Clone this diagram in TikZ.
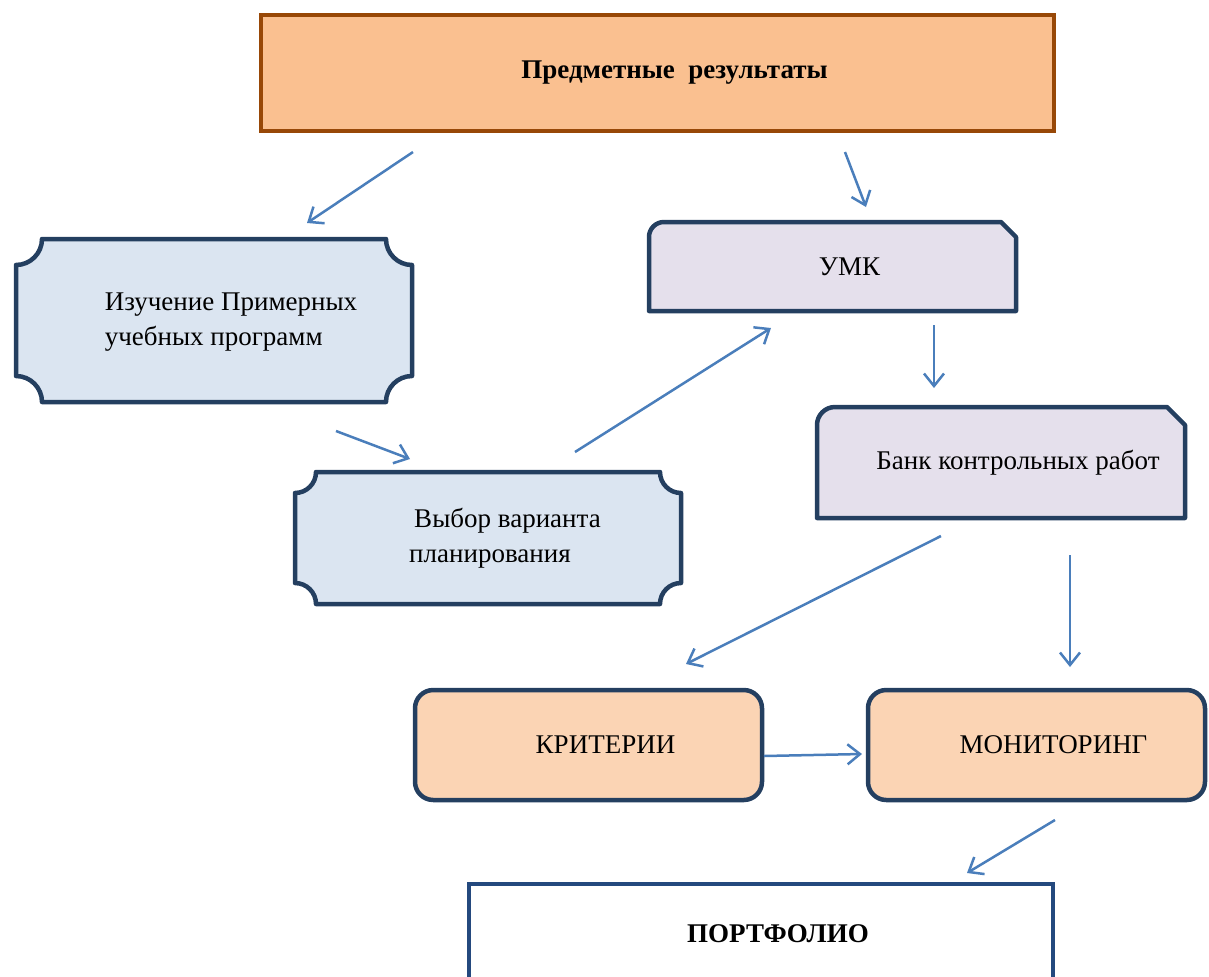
\documentclass[tikz,border=0pt]{standalone}
\usepackage{fontspec}
\setmainfont{Liberation Serif}
\usetikzlibrary{arrows.meta,calc,backgrounds}

\definecolor{frameblue}{HTML}{243F60}
\definecolor{framebrown}{HTML}{984807}
\definecolor{frameport}{HTML}{24497E}
\definecolor{peach}{HTML}{FAC090}
\definecolor{lightpeach}{HTML}{FBD4B4}
\definecolor{paleblue}{HTML}{DBE5F1}
\definecolor{palelilac}{HTML}{E5E0EC}
\definecolor{arrowblue}{HTML}{4A7EBB}

\tikzset{
  box/.style 2 args={minimum width=#1*0.4pt, minimum height=#2*0.4pt,
    inner sep=0pt, outer sep=0pt, font=\fontsize{10.8}{14}\selectfont,
    execute at begin node={\hspace*{13.6pt}}},
  boldbox/.style={font=\fontsize{10.8}{14}\selectfont\bfseries},
  frame/.style={line width=1.8pt, draw=frameblue, line join=round},
  flow/.style={draw=arrowblue, line width=1pt, -{Straight Barb[length=5pt,width=8pt]}},
}

\begin{document}
\begin{tikzpicture}[x=0.4pt,y=0.4pt]
\useasboundingbox (0,0) rectangle (1209,-976);

\node[box={793}{116}, boldbox] (res) at (657.5,-73) {Предметные~ результаты};
\node[box={396}{163}] (izuch) at (214,-320.5)
  {\begin{tabular}{@{}l@{}}Изучение Примерных\\учебных программ\end{tabular}};
\node[box={386}{132}] (vybor) at (488,-538)
  {\begin{tabular}{@{}l@{}}\hspace*{2pt}Выбор варианта\\планирования\end{tabular}};
\node[box={367}{89}] (umk) at (832.5,-266.5) {УМК};
\node[box={368}{111}] (bank) at (1001,-462.5) {Банк контрольных работ};
\node[box={347}{110}] (krit) at (588.5,-745) {КРИТЕРИИ};
\node[box={337}{110}] (monit) at (1036.5,-745) {МОНИТОРИНГ};
\node[box={584}{100}, boldbox] (portf) at (761,-934) {ПОРТФОЛИО};

\begin{scope}[on background layer]
  \draw[line width=1.8pt, draw=framebrown, fill=peach] (res.north west) rectangle (res.south east);
  % plaque corners
  \foreach \n/\r in {izuch/26, vybor/21}
    \draw[frame, fill=paleblue] ($(\n.north west)+(\r,0)$) -- ($(\n.north east)+(-\r,0)$)
      arc[start angle=180, end angle=270, radius=\r] -- ($(\n.south east)+(0,\r)$)
      arc[start angle=90, end angle=180, radius=\r] -- ($(\n.south west)+(\r,0)$)
      arc[start angle=0, end angle=90, radius=\r] -- ($(\n.north west)+(0,-\r)$)
      arc[start angle=270, end angle=360, radius=\r] -- cycle;
  % one round and one snipped corner
  \foreach \n/\r in {umk/15, bank/18}
    \draw[frame, fill=palelilac] (\n.south west) -- ($(\n.north west)+(0,-\r)$)
      arc[start angle=180, end angle=90, radius=\r] -- ($(\n.north east)+(-\r,0)$)
      -- ($(\n.north east)+(0,-\r)$) -- (\n.south east) -- cycle;
  \foreach \n in {krit, monit}
    \draw[frame, fill=lightpeach, rounded corners=7.3pt] (\n.north west) rectangle (\n.south east);
  \draw[line width=1.8pt, draw=frameport, fill=white] (portf.north west) rectangle (portf.south east);
\end{scope}

\coordinate (res-left) at (413,-152);
\coordinate (izuch-top) at (307,-223);
\coordinate (res-right) at (845,-152);
\coordinate (umk-top) at (866,-207);
\coordinate (izuch-low) at (336,-431);
\coordinate (vybor-top) at (410,-459);
\coordinate (vybor-up) at (575,-452);
\coordinate (umk-low) at (771,-328);
\coordinate (umk-down) at (934,-325);
\coordinate (bank-top) at (934,-388);
\coordinate (bank-left) at (941,-536);
\coordinate (krit-top) at (686,-664);
\coordinate (bank-down) at (1070,-555);
\coordinate (monit-top) at (1070,-667);
\coordinate (krit-out) at (764,-756);
\coordinate (monit-in) at (862,-754);
\coordinate (monit-low) at (1055,-820);
\coordinate (portf-top) at (967,-873);

\foreach \a/\b in {res-left/izuch-top, res-right/umk-top, izuch-low/vybor-top,
    vybor-up/umk-low, umk-down/bank-top, bank-left/krit-top, bank-down/monit-top,
    krit-out/monit-in, monit-low/portf-top}
  \draw[flow] (\a) -- (\b);

\end{tikzpicture}
\end{document}
